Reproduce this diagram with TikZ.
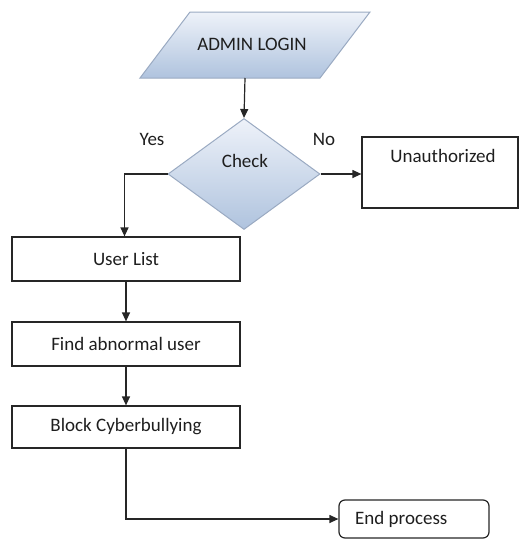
\documentclass[tikz,border=0pt]{standalone}
\usepackage{fontspec}
\setmainfont{Carlito}
\usetikzlibrary{shapes.geometric,arrows.meta}
\definecolor{topblue}{HTML}{EEF2F9}
\definecolor{botblue}{HTML}{AFC3DE}
\definecolor{edgeblue}{HTML}{9AAAC2}
\definecolor{txt}{HTML}{1E1E1E}
\tikzset{
  every node/.style={font=\fontsize{19}{22}\selectfont, text=txt},
  procbox/.style={draw=black!85, line width=1.2pt, rectangle, inner sep=0pt},
  conn/.style={draw=black!85, line width=1.2pt, -{Triangle[length=9pt,width=8pt]}},
  blueshade/.style={top color=topblue, bottom color=botblue, draw=edgeblue, line width=1pt},
  lbl/.style={inner sep=0pt}
}
\begin{document}
\begin{tikzpicture}[x=1pt,y=-1pt]
\useasboundingbox (0,0) rectangle (520,542);
% ADMIN LOGIN parallelogram
\path[blueshade] (190,12) -- (370,12) -- (320,78) -- (140,78) -- cycle;
\node[lbl] (login) at (252,44) {ADMIN LOGIN};
\coordinate (loginbot) at (245,78);
% Check diamond
\node[diamond, blueshade, minimum width=152pt, minimum height=111pt, inner sep=0pt] (check) at (244,174) {};
\node[lbl] (checktxt) at (245,161) {Check};
\node[lbl] (yes) at (152,139) {Yes};
\node[lbl] (no) at (324,139) {No};
% Unauthorized
\node[procbox, minimum width=156pt, minimum height=71pt] (unauth) at (440,172.5) {};
\node[lbl] (unauthtxt) at (443,156) {Unauthorized};
% process boxes
\node[procbox, minimum width=228pt, minimum height=44pt] (users) at (126,259) {User List};
\node[procbox, minimum width=228pt, minimum height=44pt] (find) at (126,344) {Find abnormal user};
\node[procbox, minimum width=228pt, minimum height=42pt] (block) at (126,427) {Block Cyberbullying};
\node[procbox, rounded corners=6pt, minimum width=150pt, minimum height=38pt] (endp) at (414,519) {};
\node[lbl, anchor=west] (endtxt) at (355,519) {End process};
% connectors
\draw[conn] (loginbot) -- (check.north);
\draw[conn] (check.east) -- (unauth.west |- check.east);
\draw[conn] (check.west) -- ++(-43,0) coordinate (ycorner) -- (ycorner |- users.north);
\draw[conn] (users.south) -- (find.north);
\draw[conn] (find.south) -- (block.north);
\draw[conn] (block.south) -- (block.south |- endp.west) -- (endp.west);
\end{tikzpicture}
\end{document}
